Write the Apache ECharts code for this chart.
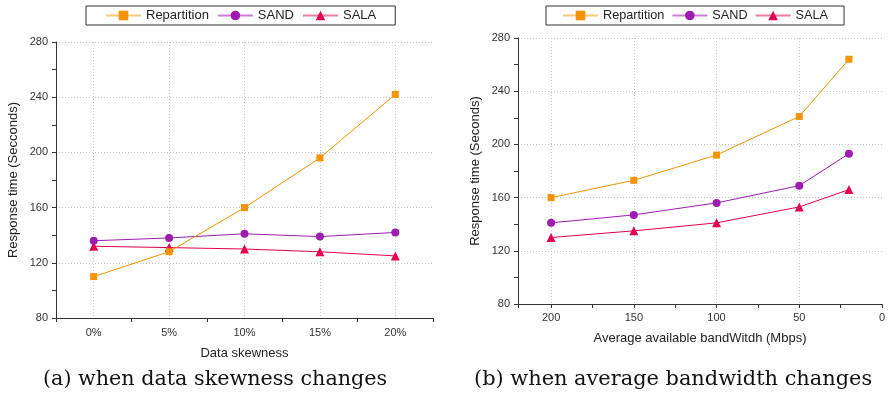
<!DOCTYPE html>
<html>
<head>
<meta charset="utf-8">
<script src="https://cdn.jsdelivr.net/npm/echarts@6/dist/echarts.min.js"></script>
<style>html,body{margin:0;padding:0;background:#fff;}#c{width:889px;height:397px;}</style>
</head>
<body>
<div id="c"></div>
<script>
// ---- data ----
const seriesNames = ['Repartition', 'SAND', 'SALA'];
const skewCategories = ['0%', '5%', '10%', '15%', '20%'];
const skewRepartition = [110, 128, 160, 196, 242];
const skewSAND = [136, 138, 141, 139, 142];
const skewSALA = [132, 131, 130, 128, 125];
const bandwidthX = [200, 150, 100, 50, 20];
const bwRepartition = [160, 173, 192, 221, 264];
const bwSAND = [141, 147, 156, 169, 193];
const bwSALA = [130, 135, 141, 153, 166];
const yTicks = [80, 120, 160, 200, 240, 280];
const captionA = '(a) when data skewness changes';
const captionB = '(b) when average bandwidth changes';

// ---- styles ----
const colors = ['#F59300', '#9C1DAE', '#E5004F'];
const lightColors = ['#FAC878', '#CD7DD8', '#F07BA3'];
const symbols = ['rect', 'circle', 'triangle'];
const symbolSizes = [7, 8, 9];
const fontSans = 'Liberation Sans, Arial, sans-serif';

const chart = echarts.init(document.getElementById('c'), null, {renderer: 'canvas'});

function legend(left, top, gap, fs, pad) {
  return {
    left: left, top: top,
    orient: 'horizontal',
    borderColor: '#333', borderWidth: 1,
    padding: [3, pad, 3, pad],
    itemGap: gap,
    itemWidth: 35, itemHeight: 12,
    textStyle: {fontFamily: fontSans, fontSize: fs, color: '#222', padding: [0, 0, 0, 0]},
    data: seriesNames.map((n, i) => ({
      name: n,
      itemStyle: {color: colors[i]},
      lineStyle: {color: lightColors[i], width: 2}
    }))
  };
}

const axisLineStyle = {show: true, onZero: false, lineStyle: {color: '#333', width: 1}};
const tickStyle = {show: true, length: 4, inside: false, lineStyle: {color: '#333'}};
const minorTick = {show: true, splitNumber: 2, length: 4, lineStyle: {color: '#333'}};
const splitLine = {show: true, lineStyle: {color: '#c8c8c8', type: [1, 2], width: 1}};
const labelStyle = {fontFamily: fontSans, fontSize: 11, color: '#333'};
const nameStyle = {fontFamily: fontSans, fontSize: 13, color: '#222'};

function yAxis(gridIndex, name) {
  return {
    type: 'value', gridIndex: gridIndex,
    min: yTicks[0], max: yTicks[yTicks.length - 1], interval: 40,
    axisLine: axisLineStyle, axisTick: tickStyle, minorTick: minorTick,
    splitLine: Object.assign({}, splitLine, {showMinLine: false}),
    axisLabel: Object.assign({margin: 8}, labelStyle),
    name: name, nameLocation: 'middle', nameGap: 36, nameRotate: 90,
    nameTextStyle: nameStyle
  };
}

function makeSeries(dataArrs, xIdx, yIdx, xs) {
  return dataArrs.map((arr, i) => ({
    name: seriesNames[i], type: 'line',
    xAxisIndex: xIdx, yAxisIndex: yIdx,
    data: xs ? arr.map((v, k) => [xs[k], v]) : arr,
    symbol: symbols[i], symbolSize: symbolSizes[i],
    showSymbol: true,
    lineStyle: {color: colors[i], width: 1},
    itemStyle: {color: colors[i]},
    emphasis: {disabled: true},
    animation: false,
    z: 3 - i
  }));
}

const option = {
  animation: false,
  backgroundColor: '#fff',
  legend: [legend(86, 6, 8, 13, 19), legend(546, 6, 7, 12.7, 16)],
  grid: [
    {left: 56, right: 456, top: 42, bottom: 79},
    {left: 518, right: 7, top: 38, bottom: 93}
  ],
  xAxis: [
    {
      type: 'category', gridIndex: 0, data: skewCategories, boundaryGap: true,
      axisLine: axisLineStyle, axisTick: tickStyle, splitLine: {show: false},
      axisLabel: Object.assign({margin: 9}, labelStyle),
      name: 'Data skewness', nameLocation: 'middle', nameGap: 29, nameTextStyle: nameStyle
    },
    {
      type: 'value', gridIndex: 0, min: -2.5, max: 22.5, splitNumber: 5,
      axisLine: {show: false, onZero: false}, axisTick: {show: false}, axisLabel: {show: false},
      splitLine: Object.assign({}, splitLine, {showMinLine: false, showMaxLine: false}),
      position: 'bottom'
    },
    {
      type: 'value', gridIndex: 1, min: 0, max: 220, splitNumber: 5, inverse: true,
      axisLine: axisLineStyle, axisTick: tickStyle, minorTick: minorTick,
      splitLine: Object.assign({}, splitLine, {showMinLine: false, showMaxLine: false}),
      axisLabel: Object.assign({margin: 8, showMaxLabel: false}, labelStyle),
      name: 'Average available bandWitdh (Mbps)', nameLocation: 'middle', nameGap: 28,
      nameTextStyle: nameStyle
    }
  ],
  yAxis: [
    yAxis(0, 'Response time (Secconds)'),
    yAxis(1, 'Response time (Seconds)')
  ],
  series: [].concat(
    makeSeries([skewRepartition, skewSAND, skewSALA], 0, 0, null),
    makeSeries([bwRepartition, bwSAND, bwSALA], 2, 1, bandwidthX)
  ),
  graphic: [
    {type: 'text', top: 369, left: 43, style: {text: captionA, font: '20.7px "DejaVu Serif", serif', fill: '#111'}},
    {type: 'text', top: 369, left: 474, style: {text: captionB, font: '20.9px "DejaVu Serif", serif', fill: '#111'}}
  ]
};
chart.setOption(option);
</script>
</body>
</html>
